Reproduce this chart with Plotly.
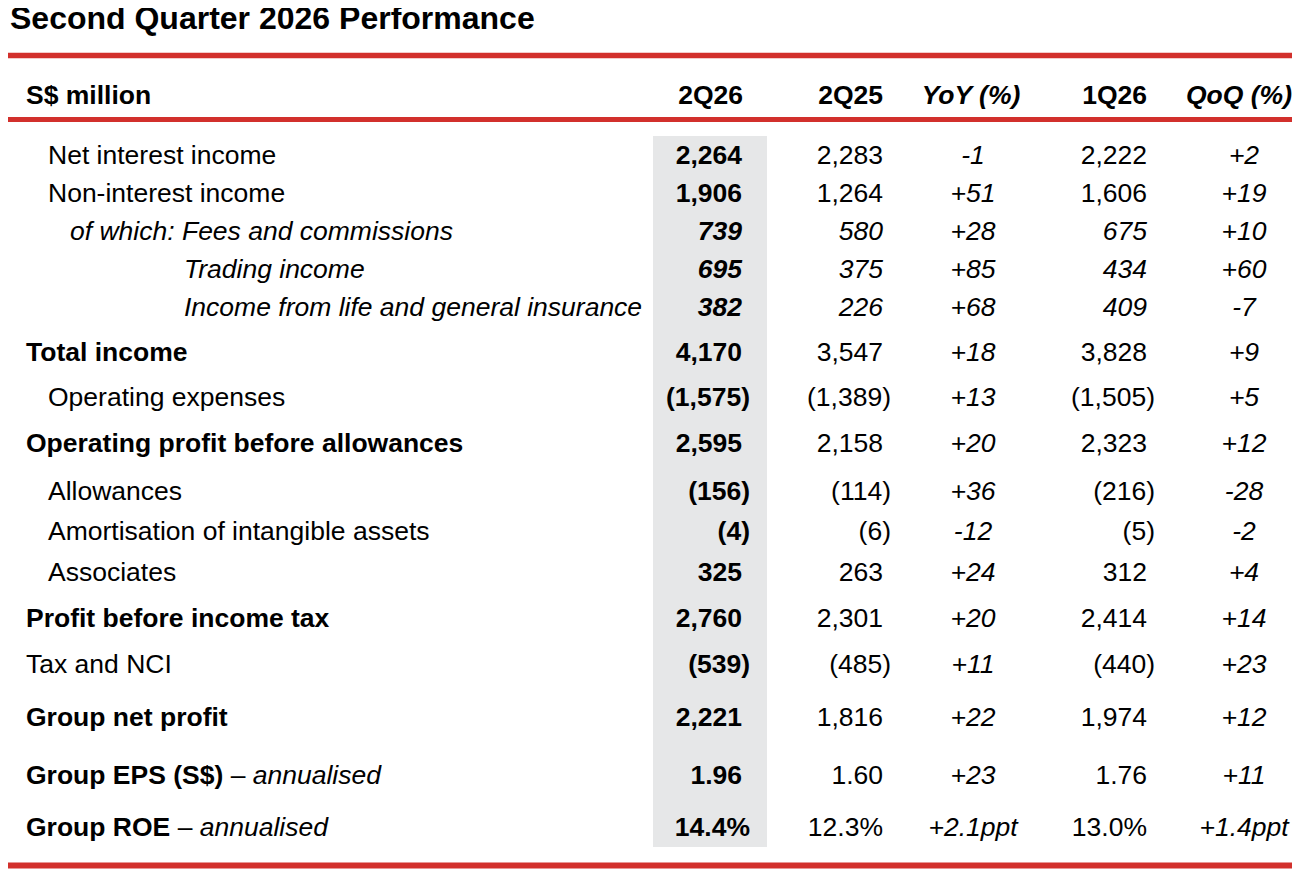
import plotly.graph_objects as go

# table content
title = "Second Quarter 2026 Performance"
unit_label = "S$ million"
columns = ["2Q26", "2Q25", "YoY (%)", "1Q26", "QoQ (%)"]

labels = [
    "Net interest income", "Non-interest income", "of which: Fees and commissions",
    "Trading income", "Income from life and general insurance", "Total income",
    "Operating expenses", "Operating profit before allowances", "Allowances",
    "Amortisation of intangible assets", "Associates", "Profit before income tax",
    "Tax and NCI", "Group net profit", "Group EPS (S$)", "Group ROE",
]
label_notes = ["", "", "", "", "", "", "", "", "", "", "", "", "", "", "annualised", "annualised"]
row_kind = ["amt"] * 14 + ["eps", "pct"]

q2_26 = [2264, 1906, 739, 695, 382, 4170, -1575, 2595, -156, -4, 325, 2760, -539, 2221, 1.96, 14.4]
q2_25 = [2283, 1264, 580, 375, 226, 3547, -1389, 2158, -114, -6, 263, 2301, -485, 1816, 1.60, 12.3]
yoy = [-1, 51, 28, 85, 68, 18, 13, 20, 36, -12, 24, 20, 11, 22, 23, 2.1]
q1_26 = [2222, 1606, 675, 434, 409, 3828, -1505, 2323, -216, -5, 312, 2414, -440, 1974, 1.76, 13.0]
qoq = [2, 19, 10, 60, -7, 9, 5, 12, -28, -2, 4, 14, 23, 12, 11, 1.4]

# layout of the table (pixels)
row_y = [157, 195, 233, 271, 309, 354, 399, 445, 493, 533, 574, 620, 666, 719, 777, 829]
label_x = [48, 48, 70, 184, 184, 26, 48, 26, 48, 48, 48, 26, 26, 26, 26, 26]
bold_rows = {5, 7, 11, 13, 14, 15}
italic_rows = {2, 3, 4}
header_y = 97
PAGE_MARGIN = 8  # default body margin of the html page

RED = "#D2302C"
GREY = "#E6E7E8"
FONT = "Liberation Sans, Arial, Helvetica, sans-serif"
SIZE = 26.5


def fmt_amount(v, kind):
    if kind == "eps":
        s = f"{abs(v):.2f}"
    elif kind == "pct":
        s = f"{abs(v):.1f}%"
    else:
        s = f"{abs(v):,.0f}"
    return f"({s})" if v < 0 else s


def fmt_change(v, kind):
    if kind == "pct":
        return f"{v:+.1f}ppt"
    return f"{v:+d}"


def style(s, bold=False, italic=False):
    if italic:
        s = f"<i>{s}</i>"
    if bold:
        s = f"<b>{s}</b>"
    return s


fig = go.Figure()

# row labels
label_text = []
for i, lab in enumerate(labels):
    t = style(lab, bold=i in bold_rows, italic=i in italic_rows)
    if label_notes[i]:
        t += " \u2013 <i>" + label_notes[i] + "</i>"
    label_text.append(t)
fig.add_trace(go.Scatter(x=label_x, y=row_y, mode="text", text=label_text,
                         textposition="middle right", hoverinfo="skip"))


def amount_column(values, right, bold, hang_pct):
    xs, texts = [], []
    for i, v in enumerate(values):
        s = fmt_amount(v, row_kind[i])
        hang = 8 if s.endswith(")") or (hang_pct and s.endswith("%")) else 0
        xs.append(right + hang)
        texts.append(style(s, bold=bold, italic=i in italic_rows))
    fig.add_trace(go.Scatter(x=xs, y=row_y, mode="text", text=texts,
                             textposition="middle left", hoverinfo="skip"))


def change_column(values, center):
    texts = [style(fmt_change(v, row_kind[i]), italic=True) for i, v in enumerate(values)]
    fig.add_trace(go.Scatter(x=[center] * len(values), y=row_y, mode="text", text=texts,
                             textposition="middle center", hoverinfo="skip"))


amount_column(q2_26, 742, True, True)
amount_column(q2_25, 883, False, False)
change_column(yoy, 973)
amount_column(q1_26, 1147, False, False)
change_column(qoq, 1244)

# header row
fig.add_trace(go.Scatter(x=[26], y=[header_y], mode="text", text=[style(unit_label, bold=True)],
                         textposition="middle right", hoverinfo="skip"))
fig.add_trace(go.Scatter(x=[743, 883, 1147], y=[header_y] * 3, mode="text",
                         text=[style(c, bold=True) for c in (columns[0], columns[1], columns[3])],
                         textposition="middle left", hoverinfo="skip"))
fig.add_trace(go.Scatter(x=[971, 1239], y=[header_y] * 2, mode="text",
                         text=[style(c, bold=True, italic=True) for c in (columns[2], columns[4])],
                         textposition="middle center", hoverinfo="skip"))

fig.update_traces(textfont=dict(family=FONT, size=SIZE, color="black"))

# title
fig.add_trace(go.Scatter(x=[10], y=[21], mode="text", text=[f"<b>{title}</b>"],
                         textposition="middle right", hoverinfo="skip",
                         textfont=dict(family=FONT, size=32, color="black")))

shapes = [
    dict(type="rect", x0=653, x1=767, y0=136, y1=847, fillcolor=GREY, line_width=0, layer="below"),
    dict(type="line", x0=7, x1=1292, y0=55.5, y1=55.5, line=dict(color=RED, width=5.5)),
    dict(type="line", x0=6, x1=1292, y0=119.5, y1=119.5, line=dict(color=RED, width=5)),
    dict(type="line", x0=7, x1=1292, y0=865.5, y1=865.5, line=dict(color=RED, width=6)),
]

fig.update_layout(
    width=1306, height=880,
    margin=dict(l=0, r=0, t=0, b=0),
    paper_bgcolor="white", plot_bgcolor="white",
    showlegend=False,
    shapes=shapes,
    xaxis=dict(range=[PAGE_MARGIN, 1306 + PAGE_MARGIN], visible=False, fixedrange=True),
    yaxis=dict(range=[880 + PAGE_MARGIN, PAGE_MARGIN], visible=False, fixedrange=True),
)

fig.write_html("out.html")
